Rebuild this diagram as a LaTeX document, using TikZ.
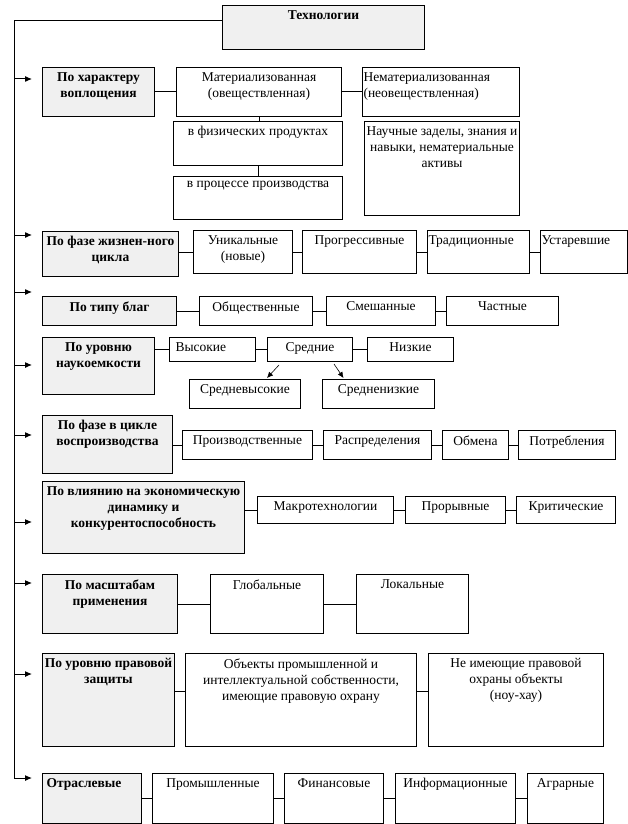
\documentclass[tikz,border=0pt]{standalone}
\usepackage{fontspec}
\setmainfont{Liberation Serif}
\usetikzlibrary{arrows.meta}
\tikzset{
  base/.style={draw, line width=1pt, inner sep=0pt, anchor=north west, font=\fontsize{13.5}{16}\selectfont},
  cat/.style={base, fill=black!6, font=\fontsize{13.5}{16}\selectfont\bfseries},
  itm/.style={base, fill=white},
  link/.style={line width=1pt},
  arr/.style={line width=1pt, -{Latex[length=7pt,width=6pt]}},
  subarr/.style={line width=0.6pt, -{Latex[length=6pt,width=5.5pt]}}
}
\newcommand\Ce{\centering}
\newcommand\Le{\raggedright\leftskip=1pt\relax}
\newcommand\Lf{\raggedright\leftskip=6pt\relax}
\newcommand\bx[8]{\node[#2] (#1) at (#4,#5) {\begin{minipage}[t][\dimexpr#7pt-#5pt\relax][t]{\dimexpr#6pt-#4pt\relax}\vspace*{5pt}#3 #8\end{minipage}};}
\begin{document}
\begin{tikzpicture}[x=1pt,y=-1pt]
\useasboundingbox (0,0) rectangle (628,824);
% top
\bx{T}{cat}{\Ce}{222}{5}{424}{49}{Технологии}
% row 1
\bx{c1}{cat}{\Ce}{42}{67}{154}{116}{По характеру\\воплощения}
\bx{m1}{itm}{\Ce}{176}{67}{341}{116}{Материализованная\\(овеществленная)}
\bx{m2}{itm}{\Le}{362}{67}{519}{116}{Нематериализованная\\(неовеществленная)}
\bx{m3}{itm}{\Ce}{173}{121}{342}{165}{в физических продуктах}
\bx{m4}{itm}{\Ce}{173}{176}{342}{219}{в процессе производства}
\bx{m5}{itm}{\Ce}{364}{121}{519}{215}{Научные заделы, знания и\\навыки, нематериальные\\активы}
% row 2
\bx{c2}{cat}{\Ce}{42}{231}{178}{276}{По фазе жизнен-ного\\цикла}
\bx{a1}{itm}{\Ce}{193}{230}{292}{273}{Уникальные\\(новые)}
\bx{a2}{itm}{\Ce}{302}{230}{416}{273}{Прогрессивные}
\bx{a3}{itm}{\Le}{427}{230}{529}{273}{Традиционные}
\bx{a4}{itm}{\Le}{540}{230}{627}{273}{Устаревшие}
% row 3
\bx{c3}{cat}{\Ce}{42}{296}{176}{325}{По типу благ}
\bx{b1}{itm}{\Ce}{199}{296}{312}{325}{Общественные}
\bx{b2}{itm}{\Ce}{326}{296}{435}{325}{Смешанные}
\bx{b3}{itm}{\Ce}{446}{296}{558}{325}{Частные}
% row 4
\bx{c4}{cat}{\Ce}{42}{337}{154}{394}{По уровню\\наукоемкости}
\bx{d1}{itm}{\Lf}{169}{337}{255}{361}{Высокие}
\bx{d2}{itm}{\Ce}{267}{337}{352}{361}{Средние}
\bx{d3}{itm}{\Ce}{367}{337}{453}{361}{Низкие}
\bx{d4}{itm}{\Ce}{189}{379}{300}{408}{Средневысокие}
\bx{d5}{itm}{\Ce}{322}{379}{434}{408}{Средненизкие}
% row 5
\bx{c5}{cat}{\Ce}{42}{415}{172}{473}{По фазе в цикле\\воспроизводства}
\bx{e1}{itm}{\Ce}{182}{430}{312}{459}{Производственные}
\bx{e2}{itm}{\Ce}{323}{430}{431}{459}{Распределения}
\bx{e3}{itm}{\Ce}{442}{430}{508}{459}{Обмена}
\bx{e4}{itm}{\Ce}{518}{430}{615}{459}{Потребления}
% row 6
\bx{c6}{cat}{\Ce}{42}{481}{244}{553}{По влиянию на экономическую\\динамику и\\конкурентоспособность}
\bx{f1}{itm}{\Ce}{257}{496}{393}{523}{Макротехнологии}
\bx{f2}{itm}{\Ce}{405}{496}{505}{523}{Прорывные}
\bx{f3}{itm}{\Ce}{516}{496}{615}{523}{Критические}
% row 7
\bx{c7}{cat}{\Ce}{42}{574}{177}{633}{По масштабам\\применения}
\bx{g1}{itm}{\Ce}{210}{574}{323}{633}{Глобальные}
\bx{g2}{itm}{\Ce}{356}{574}{468}{633}{Локальные}
% row 8
\bx{c8}{cat}{\Ce}{42}{653}{174}{746}{По уровню правовой\\защиты}
\bx{h1}{itm}{\Ce}{185}{653}{416}{746}{Объекты промышленной и\\интеллектуальной собственности,\\имеющие правовую охрану}
\bx{h2}{itm}{\Ce}{428}{653}{603}{746}{Не имеющие правовой\\охраны объекты\\(ноу-хау)}
% row 9
\bx{c9}{cat}{\Le}{42}{773}{141}{823}{\hspace*{3pt}Отраслевые}
\bx{i1}{itm}{\Ce}{152}{773}{273}{823}{Промышленные}
\bx{i2}{itm}{\Ce}{284}{773}{383}{823}{Финансовые}
\bx{i3}{itm}{\Ce}{395}{773}{515}{823}{Информационные}
\bx{i4}{itm}{\Ce}{527}{773}{603}{823}{Аграрные}
% connectors
\draw[link] (c1) -- (m1);
\draw[link] (m1) -- (m2);
\draw[link] (m1.south) -- (m1.south |- m3.north);
\draw[link] (m3.south) -- (m3.south |- m4.north);
\draw[link] (c2.east |- a1.west) -- (a1.west);
\draw[link] (a1) -- (a2);
\draw[link] (a2) -- (a3);
\draw[link] (a3) -- (a4);
\draw[link] (c3) -- (b1);
\draw[link] (b1) -- (b2);
\draw[link] (b2) -- (b3);
\draw[link] (c4.east |- d1.west) -- (d1.west);
\draw[link] (d1) -- (d2);
\draw[link] (d2) -- (d3);
\draw[subarr] ([xshift=-31pt,yshift=-3pt]d2.south) -- ([xshift=22pt,yshift=1pt]d4.north);
\draw[subarr] ([xshift=24pt,yshift=-2pt]d2.south) -- ([xshift=-35pt,yshift=1pt]d5.north);
\draw[link] (c5.east |- e1.west) -- (e1.west);
\draw[link] (e1) -- (e2);
\draw[link] (e2) -- (e3);
\draw[link] (e3) -- (e4);
\draw[link] (c6.east |- f1.west) -- (f1.west);
\draw[link] (f1) -- (f2);
\draw[link] (f2) -- (f3);
\draw[link] (c7.east |- g1.west) -- (g1.west);
\draw[link] (g1) -- (g2);
\draw[link] ([yshift=9pt]c8.east) -- ([yshift=9pt]h1.west);
\draw[link] ([yshift=9pt]h1.east) -- ([yshift=9pt]h2.west);
\draw[link] (c9.east |- i1.west) -- (i1.west);
\draw[link] (i1) -- (i2);
\draw[link] (i2) -- (i3);
\draw[link] (i3) -- (i4);
% trunk and arrows
\foreach \n/\y in {1/79,2/235,3/292,4/365,5/435,6/522,7/583,8/674,9/778}{
  \coordinate (s\n) at (14,\y);
  \coordinate (t\n) at (32,\y);
}
\draw[link] ([yshift=7pt]T.west) -| (s9);
\foreach \n in {1,...,9}{\draw[arr] (s\n) -- (t\n);}
\end{tikzpicture}
\end{document}
